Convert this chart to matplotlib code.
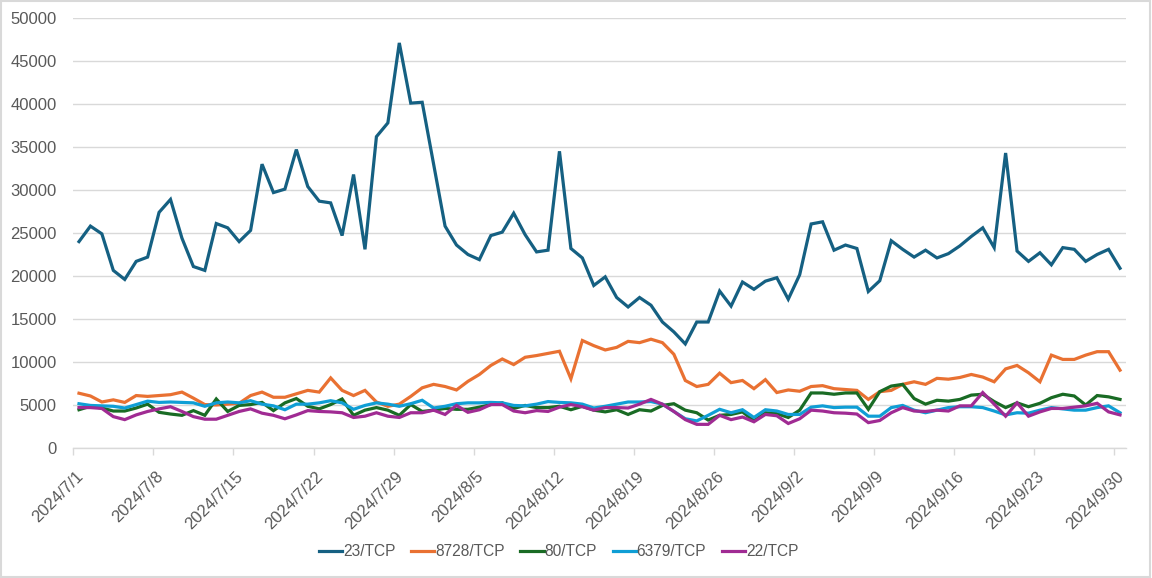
import matplotlib
matplotlib.use("Agg")
import numpy as np
import pandas as pd
from matplotlib import pyplot as plt
from matplotlib.patches import Rectangle
from matplotlib.transforms import ScaledTranslation

plt.rcParams['font.family'] = ['Liberation Sans', 'DejaVu Sans']

dates = pd.date_range("2024-07-01", "2024-09-30", freq="D")

tcp23 = [24000, 25800, 24900, 20650, 19600, 21700, 22200, 27400, 28900, 24400,
         21100, 20650, 26100, 25600, 24000, 25300, 33000, 29700, 30100, 34700,
         30400, 28700, 28500, 24700, 31800, 23100, 36200, 37800, 47100, 40100,
         40200, 33000, 25800, 23600, 22500, 21900, 24700, 25100, 27300, 24800,
         22800, 23000, 34500, 23200, 22100, 18900, 19900, 17500, 16400, 17500,
         16600, 14650, 13500, 12100, 14650, 14650, 18250, 16500, 19300, 18450,
         19400, 19800, 17300, 20150, 26050, 26300, 23000, 23600, 23200, 18200,
         19450, 24100, 23100, 22200, 23000, 22100, 22600, 23500, 24600, 25600,
         23300, 34300, 22900, 21700, 22700, 21300, 23300, 23100, 21700, 22500,
         23100, 20900]

tcp8728 = [6370, 6050, 5350, 5600, 5300, 6100, 6000, 6100, 6200, 6500,
           5800, 5050, 5000, 5100, 5200, 6100, 6500, 5900, 5900, 6300,
           6700, 6500, 8150, 6700, 6100, 6700, 5350, 4850, 5100, 6000,
           7000, 7400, 7150, 6750, 7750, 8550, 9600, 10350, 9700, 10550,
           10750, 11000, 11250, 8050, 12500, 11900, 11400, 11700, 12400, 12250,
           12650, 12250, 10900, 7850, 7150, 7400, 8700, 7600, 7850, 6900,
           7950, 6450, 6750, 6600, 7150, 7250, 6900, 6800, 6700, 5650,
           6550, 6700, 7400, 7700, 7400, 8100, 8000, 8200, 8550, 8250,
           7700, 9200, 9600, 8750, 7700, 10800, 10300, 10300, 10800, 11200,
           11200, 9050]

tcp80 = [4450, 4850, 4650, 4300, 4300, 4650, 5100, 4150, 3950, 3800,
         4350, 3800, 5700, 4250, 4950, 5050, 5300, 4350, 5250, 5750,
         4850, 4550, 5050, 5700, 3800, 4400, 4700, 4400, 3800, 5050,
         4250, 4400, 4600, 4500, 4500, 4750, 5050, 5250, 4600, 4950,
         4700, 4700, 4850, 4450, 4850, 4400, 4200, 4450, 3900, 4450,
         4300, 4950, 5150, 4400, 4100, 3250, 3800, 3900, 4200, 3150,
         4100, 4000, 3550, 4400, 6400, 6400, 6250, 6400, 6400, 4500,
         6550, 7200, 7400, 5750, 5100, 5550, 5450, 5650, 6150, 6250,
         5400, 4700, 5250, 4800, 5200, 5850, 6250, 6050, 5000, 6100,
         5950, 5650]

tcp6379 = [5150, 4950, 4900, 4850, 4650, 5050, 5450, 5300, 5350, 5300,
           5250, 4850, 5250, 5350, 5250, 5500, 5100, 4900, 4450, 5100,
           5100, 5250, 5500, 5250, 4500, 4950, 5250, 5100, 4850, 5150,
           5550, 4650, 4850, 5150, 5250, 5250, 5300, 5250, 4950, 4900,
           5100, 5400, 5300, 5250, 5100, 4650, 4850, 5100, 5350, 5350,
           5400, 5100, 4250, 3400, 3150, 3800, 4500, 4100, 4450, 3550,
           4450, 4300, 3900, 3900, 4750, 4900, 4700, 4750, 4750, 3700,
           3700, 4700, 4950, 4400, 4100, 4400, 4700, 4800, 4800, 4700,
           4300, 3850, 4100, 4050, 4400, 4700, 4550, 4400, 4400, 4700,
           4900, 4100]

tcp22 = [4700, 4700, 4600, 3650, 3300, 3850, 4250, 4550, 4800, 4250,
         3650, 3350, 3350, 3800, 4250, 4550, 4050, 3800, 3400, 3850,
         4350, 4250, 4200, 4100, 3550, 3700, 4100, 3700, 3550, 4100,
         4100, 4400, 3900, 4950, 4150, 4450, 5050, 5050, 4300, 4100,
         4350, 4250, 4750, 5050, 4800, 4400, 4700, 4700, 4650, 5100,
         5650, 5100, 4250, 3300, 2750, 2750, 3800, 3300, 3600, 3050,
         3900, 3750, 2850, 3400, 4400, 4300, 4100, 4050, 3950, 2950,
         3200, 4100, 4700, 4300, 4250, 4400, 4300, 4900, 4900, 6450,
         5100, 3700, 5250, 3700, 4200, 4600, 4600, 4750, 4900, 5200,
         4200, 3850]

series = [
    ("23/TCP", tcp23, "#156082"),
    ("8728/TCP", tcp8728, "#E97132"),
    ("80/TCP", tcp80, "#196B24"),
    ("6379/TCP", tcp6379, "#0F9ED5"),
    ("22/TCP", tcp22, "#A02B93"),
]

fig = plt.figure(figsize=(11.52, 5.78), dpi=100)
ax = fig.add_axes([0.0636, 0.2249, 0.9136, 0.744])

x = np.arange(len(dates))
for name, vals, color in series:
    ax.plot(x, vals, color=color, lw=2.3, label=name, solid_joinstyle='miter')

ax.set_xlim(-0.5, len(dates) - 0.5)
ax.set_ylim(0, 50000)
ax.set_yticks(np.arange(0, 50001, 5000))
ax.grid(axis='y', color='#d9d9d9', lw=1)
ax.set_axisbelow(True)

for s in ['top', 'right', 'left']:
    ax.spines[s].set_visible(False)
ax.spines['bottom'].set_color('#d9d9d9')
ax.spines['bottom'].set_linewidth(1)

lab_pos = x[::7]
ax.set_xticks(lab_pos)
ax.set_xticklabels([f"{d.year}/{d.month}/{d.day}" for d in dates[::7]],
                   rotation=45, ha='right', va='top')
ax.set_xticks(np.arange(-0.5, len(dates) - 1, 7), minor=True)
ax.tick_params(axis='x', which='major', length=0, pad=15, labelsize=12, labelcolor='#595959')
ax.tick_params(axis='x', which='minor', length=5, color='#d9d9d9', width=1)
ax.tick_params(axis='y', length=0, pad=12, labelsize=12, labelcolor='#595959')

# nudge the rotated date labels right, after tick_params (it resets transforms)
shift = ScaledTranslation(7 / 100, 0, fig.dpi_scale_trans)
for tick in ax.xaxis.get_major_ticks():
    tick.label1.set_transform(tick.label1.get_transform() + shift)

fig.legend(loc='center', bbox_to_anchor=(0.485, 0.045), ncol=5, frameon=False,
           fontsize=11.2, handlelength=1.5, handletextpad=0.05, columnspacing=1.0,
           labelcolor='#595959')

fig.patches.append(Rectangle((0.001, 0.002), 0.997, 0.996, transform=fig.transFigure,
                             fill=False, edgecolor='#d9d9d9', lw=1.5))

fig.savefig("out.png", dpi=100)
